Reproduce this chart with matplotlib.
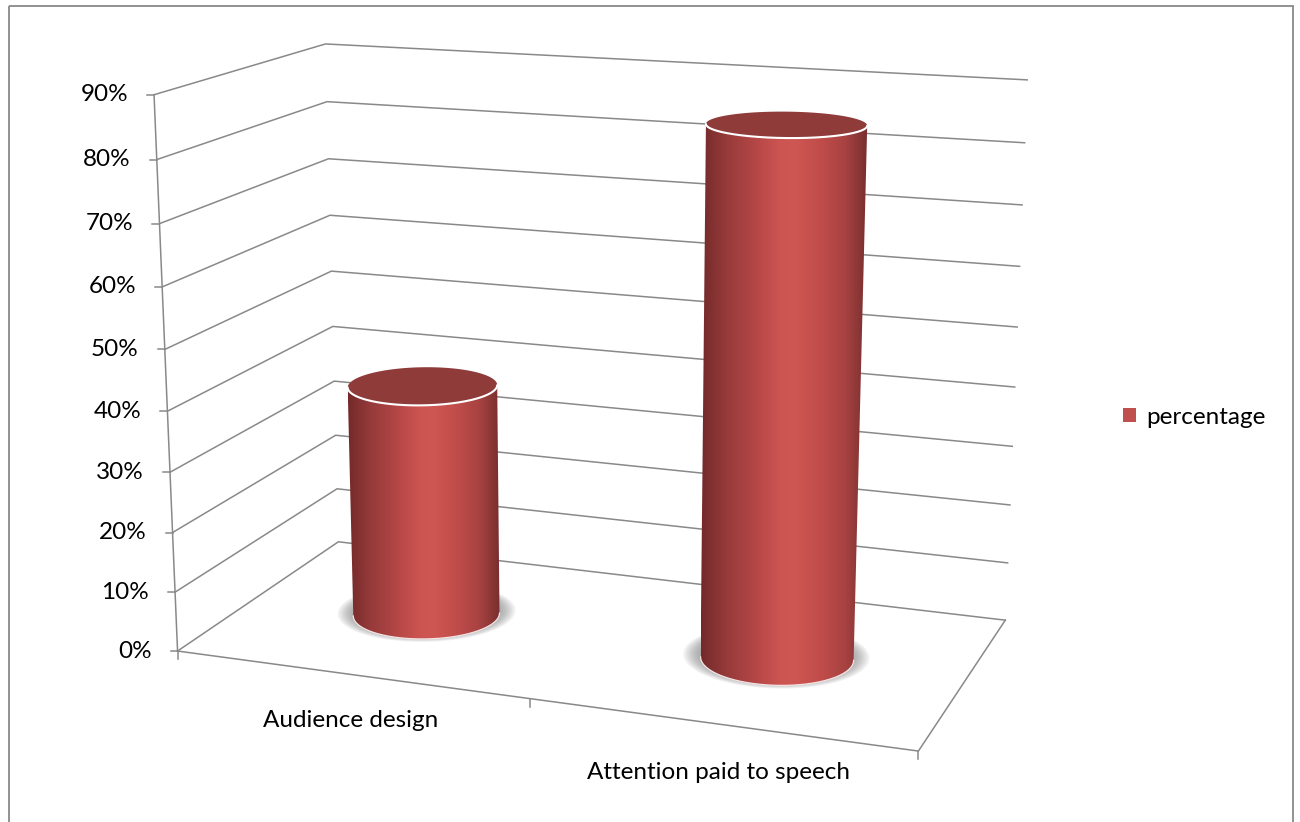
import numpy as np
import matplotlib
matplotlib.use("Agg")
import matplotlib.pyplot as plt
from matplotlib.colors import LinearSegmentedColormap
from matplotlib.patches import Polygon, Rectangle, Patch

categories = ["Audience design", "Attention paid to speech"]
values = [0.394, 0.859]
series_name = "percentage"
value_ticks = [0.0, 0.1, 0.2, 0.3, 0.4, 0.5, 0.6, 0.7, 0.8, 0.9]
tick_labels = ["0%", "10%", "20%", "30%", "40%", "50%", "60%", "70%", "80%", "90%"]

BAR = "#C0504D"
GRID = "#898989"
W, H = 1300, 822
plt.rcParams['font.family'] = ['Lato', 'DejaVu Sans']

# 3D view (perspective camera looking at the chart box, like Excel's 3D rotation)
DEPTH = 0.495          # floor depth, width = 1
HEIGHT = 0.8206        # height of 100 %
YAW, PITCH, ROLL = 0.35405, -0.26377, 0.00095
CAM = np.array([1.20234, 1.27075, -3.03453])
FOCAL = 2764.67
CX, CY = 590, 400
RADIUS = 0.1           # gap width 150 %


def rot(yaw, pitch, roll):
    c1, s1 = np.cos(yaw), np.sin(yaw)
    c2, s2 = np.cos(pitch), np.sin(pitch)
    c3, s3 = np.cos(roll), np.sin(roll)
    Ry = np.array([[c1, 0, s1], [0, 1, 0], [-s1, 0, c1]])
    Rx = np.array([[1, 0, 0], [0, c2, -s2], [0, s2, c2]])
    Rz = np.array([[c3, -s3, 0], [s3, c3, 0], [0, 0, 1]])
    return Rz @ Rx @ Ry


R = rot(YAW, PITCH, ROLL)
n_cat = len(categories)


def to_screen(x, y, z):
    x, y, z = np.broadcast_arrays(np.asarray(x, float), np.asarray(y, float), np.asarray(z, float))
    pc = (np.stack([x, y, z], -1) - CAM) @ R.T
    return CX + FOCAL * pc[..., 0] / pc[..., 2], CY - FOCAL * pc[..., 1] / pc[..., 2]


def proj(X, V, Z):
    # X in category units, V value, Z depth fraction (0 front, 1 back)
    return to_screen(np.asarray(X, float) / n_cat - 0.5, np.asarray(V, float) * HEIGHT,
                     np.asarray(Z, float) * DEPTH)


shade = LinearSegmentedColormap.from_list("cyl", [
    (0.0, "#742A2A"), (0.15, "#963A3A"), (0.32, "#B44646"), (0.47, "#CC5451"),
    (0.57, "#CE5653"), (0.72, "#C04C4A"), (0.87, "#A64241"), (1.0, "#782E2E")])
gradient = shade(np.linspace(0, 1, 256))[None, :, :]

fig = plt.figure(figsize=(W / 100, H / 100), dpi=100)
ax = fig.add_axes([0, 0, 1, 1])

# chart area border
ax.add_patch(Rectangle((9, 6), 1284, 840, fill=False, ec=GRID, lw=1.3))

# walls: value gridlines on left wall and back wall
for t in value_ticks:
    u, v = proj([0, 0, n_cat], t, [0, 1, 1])
    ax.plot(u, v, color=GRID, lw=1.1, zorder=1, solid_joinstyle='miter')
# floor outline
u, v = proj([0, n_cat, n_cat], 0, [0, 0, 1])
ax.plot(u, v, color=GRID, lw=1.1, zorder=1)
# value axis
u, v = proj(0, [0, value_ticks[-1]], 0)
ax.plot(u, v, color=GRID, lw=1.1, zorder=1)
for t, lab in zip(value_ticks, tick_labels):
    u, v = proj(0, t, 0)
    ax.plot([u - 7, u], [v, v], color=GRID, lw=1.1, zorder=1)
    ax.text(u - 26, v, lab, ha='right', va='center', fontsize=17.5, color='black')
# category axis
for k in range(n_cat + 1):
    u, v = proj(k, 0, 0)
    ax.plot([u, u], [v, v + 8], color=GRID, lw=1.1, zorder=1)
for k, lab in enumerate(categories):
    u, v = proj(k + 0.5, -0.089, 0)
    ax.text(u, v, lab, ha='center', va='baseline', fontsize=17.5, color='black')


def cylinder(k, val):
    xc = (k + 0.5) / n_cat - 0.5
    zc = 0.5 * DEPTH
    top = val * HEIGHT
    phi = np.linspace(np.pi / 2, np.pi / 2 + 2 * np.pi, 361)
    xs = xc + RADIUS * np.cos(phi)
    zs = zc + RADIUS * np.sin(phi)
    # soft shadow on the floor
    for s in np.linspace(1.22, 1.0, 10):
        u, v = to_screen(xc + RADIUS * s * np.cos(phi) - 0.004, 0, zc + RADIUS * s * np.sin(phi) + 0.01)
        ax.add_patch(Polygon(np.c_[u, v], closed=True, fc='#7a7a7a', ec='none', alpha=0.09, zorder=2))
    ub, vb = to_screen(xs, 0, zs)
    ut, vt = to_screen(xs, top, zs)
    pm = 0.5 * (phi[1:] + phi[:-1])
    nx, nz = np.cos(pm), np.sin(pm)
    vis = nx * (CAM[0] - xc - RADIUS * nx) + nz * (CAM[2] - zc - RADIUS * nz) > 0
    idx = np.where(vis)[0]
    sel = np.r_[idx, idx[-1] + 1]
    # side: horizontal shading clipped to the visible outline
    side = Polygon(np.r_[np.c_[ub[sel], vb[sel]], np.c_[ut[sel][::-1], vt[sel][::-1]]],
                   closed=True, fc='none', ec='none')
    ax.add_patch(side)
    left = min(ub[sel].min(), ut[sel].min())
    right = max(ub[sel].max(), ut[sel].max())
    img = ax.imshow(gradient, extent=(left, right, vb.max() + 2, vt.min() - 2),
                    aspect='auto', interpolation='bilinear', zorder=3)
    img.set_clip_path(side)
    ax.add_patch(Polygon(np.c_[ut, vt], closed=True, fc='#8E3B3A', ec='none', zorder=4))
    ax.plot(ut[sel], vt[sel], color='white', lw=1.5, zorder=5, solid_capstyle='round')
    ax.plot(ub[sel], vb[sel], color='#F4E4E4', lw=0.9, zorder=5)


for k, val in enumerate(values):
    cylinder(k, val)

ax.set_xlim(0, W)
ax.set_ylim(H, 0)
ax.axis('off')

fig.legend(handles=[Patch(facecolor=BAR, label=series_name)], loc='center left',
           bbox_to_anchor=(1101 / W, 1 - 417 / H), frameon=False, fontsize=17.5,
           handlelength=0.55, handleheight=0.55, handletextpad=0.4)

fig.savefig("out.png", dpi=100)
